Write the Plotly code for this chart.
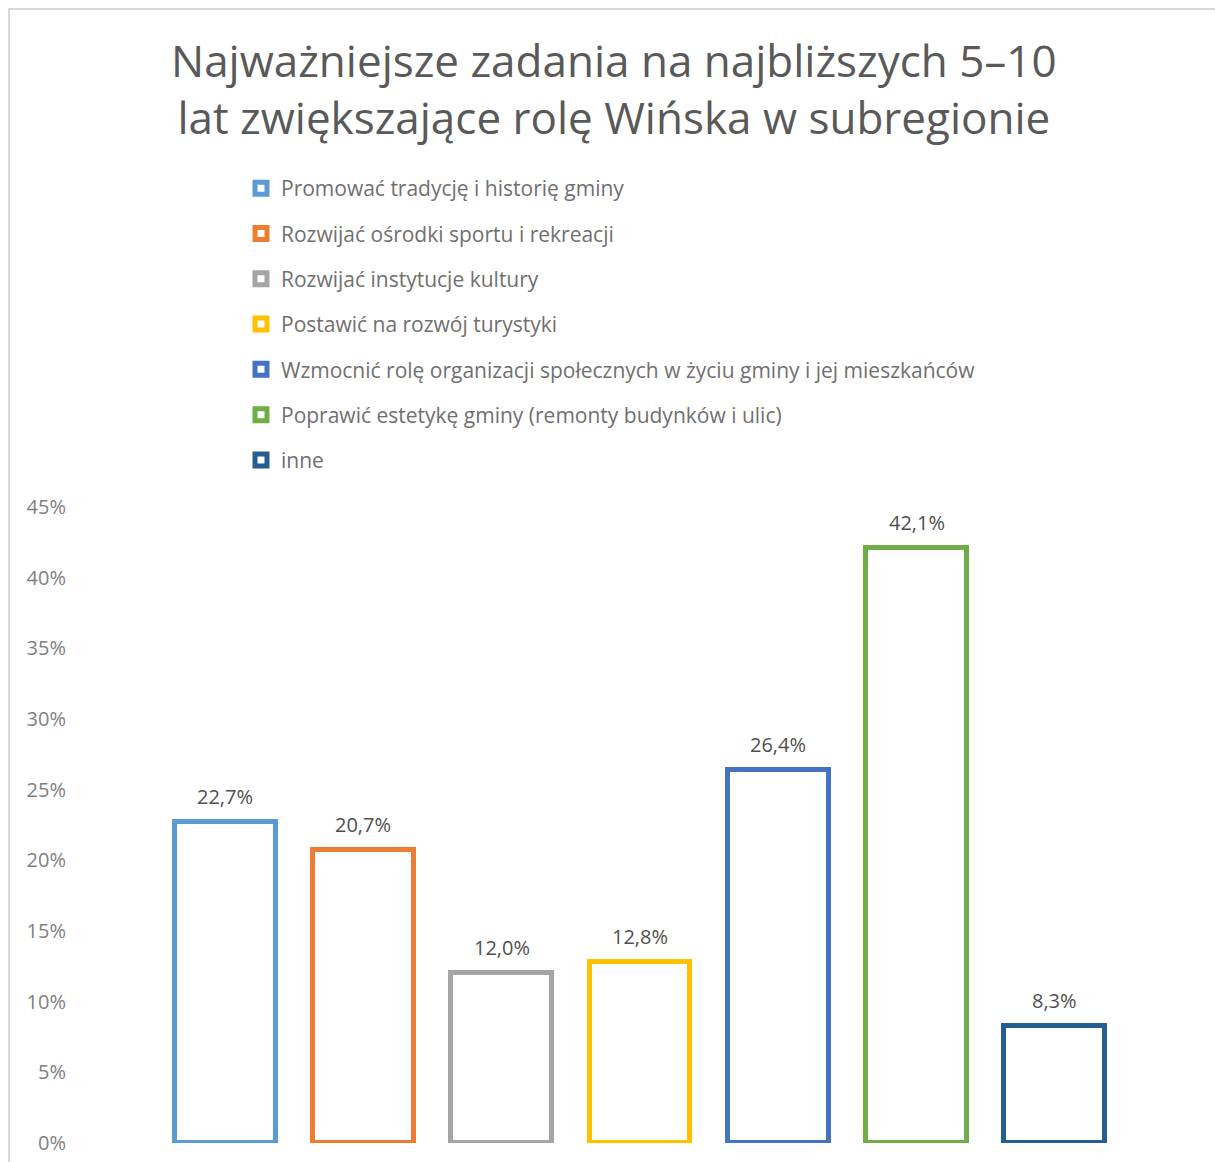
import plotly.graph_objects as go

# Survey answers: share of respondents per task
categories = [
    "Promować tradycję i historię gminy",
    "Rozwijać ośrodki sportu i rekreacji",
    "Rozwijać instytucje kultury",
    "Postawić na rozwój turystyki",
    "Wzmocnić rolę organizacji społecznych w życiu gminy i jej mieszkańców",
    "Poprawić estetykę gminy (remonty budynków i ulic)",
    "inne",
]
values = [22.7, 20.7, 12.0, 12.8, 26.4, 42.1, 8.3]
colors = ["#5B9BD5", "#ED7D31", "#A5A5A5", "#FFC000", "#4472C4", "#70AD47", "#255E91"]
y_ticks = [0, 5, 10, 15, 20, 25, 30, 35, 40, 45]

title_lines = [
    "Najważniejsze zadania na najbliższych 5–10",
    "lat zwiększające rolę Wińska w subregionie",
]

FONT = "Open Sans"

# plot area in pixels: left 156, right 1124, top 507, bottom 1143
PLOT_TOP, PLOT_BOTTOM, PLOT_LEFT, PLOT_W = 507, 1143, 156, 968
PLOT_H = PLOT_BOTTOM - PLOT_TOP


def py(px):
    return (PLOT_BOTTOM - px) / PLOT_H


def pxx(px):
    return (px - PLOT_LEFT) / PLOT_W


fig = go.Figure()
for cat, val, col in zip(categories, values, colors):
    fig.add_trace(go.Bar(
        x=[cat], y=[val], name=cat, legendgroup=cat,
        marker=dict(color="white", line=dict(color=col, width=5)),
        width=0.73, hoverinfo="skip",
    ))


def pct(v):
    return f"{v:.1f}".replace(".", ",") + "%"


annotations = [
    dict(x=cat, y=val, text=pct(val), xref="x", yref="y", showarrow=False,
         yanchor="bottom", yshift=10, font=dict(family=FONT, size=20, color="#505050"))
    for cat, val in zip(categories, values)
]

annotations.append(dict(
    text="<br>".join(title_lines), x=pxx(614), y=py(28), xref="paper", yref="paper",
    xanchor="center", yanchor="top", showarrow=False,
    font=dict(family=FONT, size=44, color="#595959"),
))

fig.update_layout(
    width=1215, height=1162,
    margin=dict(l=PLOT_LEFT, r=1215 - PLOT_LEFT - PLOT_W, t=PLOT_TOP, b=1162 - PLOT_BOTTOM),
    paper_bgcolor="white", plot_bgcolor="white",
    barmode="overlay", bargap=0,
    font=dict(family=FONT),
    showlegend=True,
    legend=dict(
        x=pxx(241), y=py(168), xref="paper", yref="paper",
        xanchor="left", yanchor="top",
        font=dict(family=FONT, size=21, color="#707070"),
        tracegroupgap=15, itemwidth=30, bgcolor="rgba(0,0,0,0)",
    ),
    annotations=annotations,
    shapes=[dict(
        type="rect", xref="paper", yref="paper",
        x0=pxx(9), x1=pxx(1230), y0=py(1180), y1=py(9),
        line=dict(color="#D9D9D9", width=2), fillcolor="rgba(0,0,0,0)", layer="below",
    )],
)

fig.update_xaxes(showticklabels=False, showgrid=False, zeroline=False, showline=False,
                 ticks="", automargin=False)
fig.update_yaxes(
    range=[0, 45], tickvals=y_ticks, ticktext=[f"{t}%" for t in y_ticks],
    showgrid=False, zeroline=False, showline=False, ticks="", automargin=False,
    tickfont=dict(family=FONT, size=20, color="#7F7F7F"),
    ticklabelstandoff=89,
)

fig.write_html("out.html")
